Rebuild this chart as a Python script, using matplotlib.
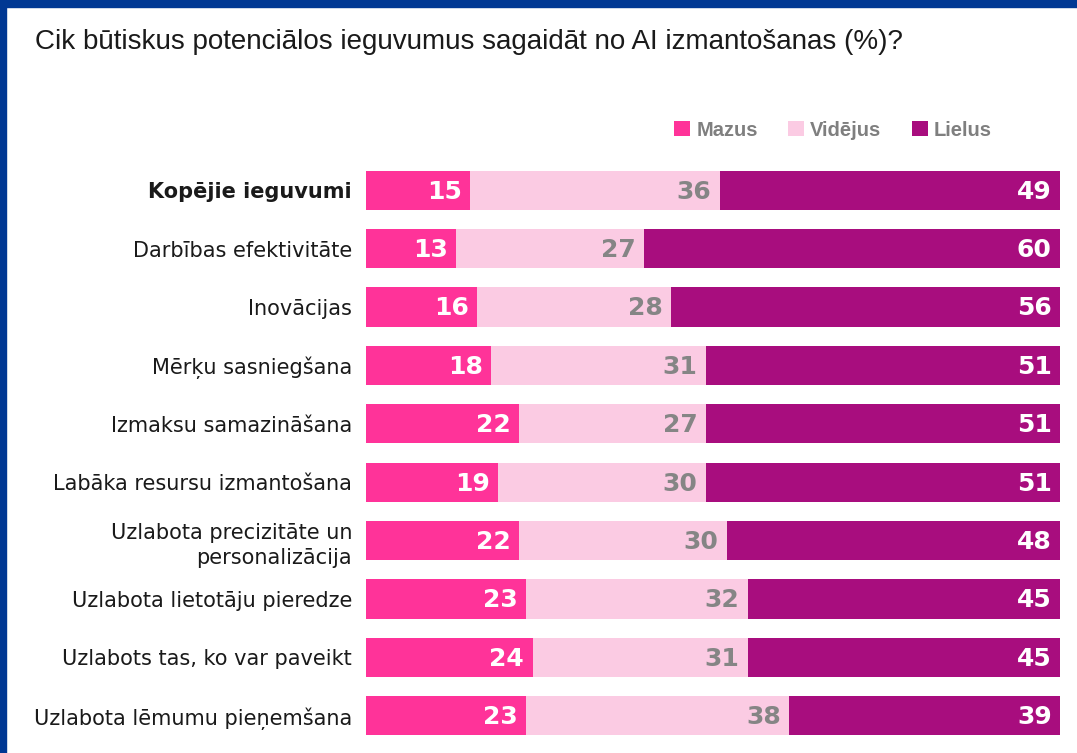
import matplotlib.pyplot as plt
from matplotlib.patches import Rectangle

# data
categories = [
    'Kopējie ieguvumi',
    'Darbības efektivitāte',
    'Inovācijas',
    'Mērķu sasniegšana',
    'Izmaksu samazināšana',
    'Labāka resursu izmantošana',
    'Uzlabota precizitāte un\npersonalizācija',
    'Uzlabota lietotāju pieredze',
    'Uzlabots tas, ko var paveikt',
    'Uzlabota lēmumu pieņemšana',
]
mazus = [15, 13, 16, 18, 22, 19, 22, 23, 24, 23]
videjus = [36, 27, 28, 31, 27, 30, 30, 32, 31, 38]
lielus = [49, 60, 56, 51, 51, 51, 48, 45, 45, 39]
series_names = ['Mazus', 'Vidējus', 'Lielus']

c_maz = '#FF3399'
c_vid = '#FBCBE3'
c_liel = '#A80D7E'

fig = plt.figure(figsize=(10.77, 7.53), dpi=100)
ax = fig.add_axes([366 / 1077, 1 - 745 / 753, 694 / 1077, 584 / 753])

y = list(range(len(categories)))
h = 0.67
left2 = [a for a in mazus]
left3 = [a + b for a, b in zip(mazus, videjus)]

b1 = ax.barh(y, mazus, height=h, color=c_maz, label=series_names[0])
b2 = ax.barh(y, videjus, left=left2, height=h, color=c_vid, label=series_names[1])
b3 = ax.barh(y, lielus, left=left3, height=h, color=c_liel, label=series_names[2])

for bars, vals, col in [(b1, mazus, 'white'), (b2, videjus, '#858585'), (b3, lielus, 'white')]:
    for bar, v in zip(bars, vals):
        ax.annotate(str(v), xy=(bar.get_x() + bar.get_width(), bar.get_y() + bar.get_height() / 2),
                    xytext=(-6, -1), textcoords='offset points', ha='right', va='center',
                    fontsize=18, fontweight='bold', color=col)

ax.set_xlim(0, 100)
ax.set_ylim(len(categories) - 0.5, -0.5)
ax.set_yticks(y)
ax.set_yticklabels(categories, fontsize=15, color='#1a1a1a', ha='right',
                   multialignment='right', linespacing=1.35)
ax.get_yticklabels()[0].set_fontweight('bold')
ax.tick_params(axis='y', length=0, pad=10)
ax.set_xticks([])
for s in ax.spines.values():
    s.set_visible(False)

fig.legend(handles=[b1, b2, b3], labels=series_names, loc='center left',
           bbox_to_anchor=(656 / 1077, 1 - 130 / 753), ncol=3, frameon=False,
           handlelength=0.8, handleheight=0.8, handletextpad=0.3, columnspacing=1.5,
           prop={'family': 'Liberation Sans', 'size': 14.5, 'weight': 'bold'}, labelcolor='#7f7f7f')

fig.text(35 / 1077, 1 - 42 / 753, 'Cik būtiskus potenciālos ieguvumus sagaidāt no AI izmantošanas (%)?',
         fontsize=20, family='Liberation Sans', color='#1a1a1a', va='center', ha='left')

# dark blue frame at top and left
fig.patches.append(Rectangle((0, 1 - 7 / 753), 1, 7 / 753, transform=fig.transFigure, color='#003893'))
fig.patches.append(Rectangle((0, 0), 6 / 1077, 1, transform=fig.transFigure, color='#003893'))

fig.savefig('out.png', dpi=100)
